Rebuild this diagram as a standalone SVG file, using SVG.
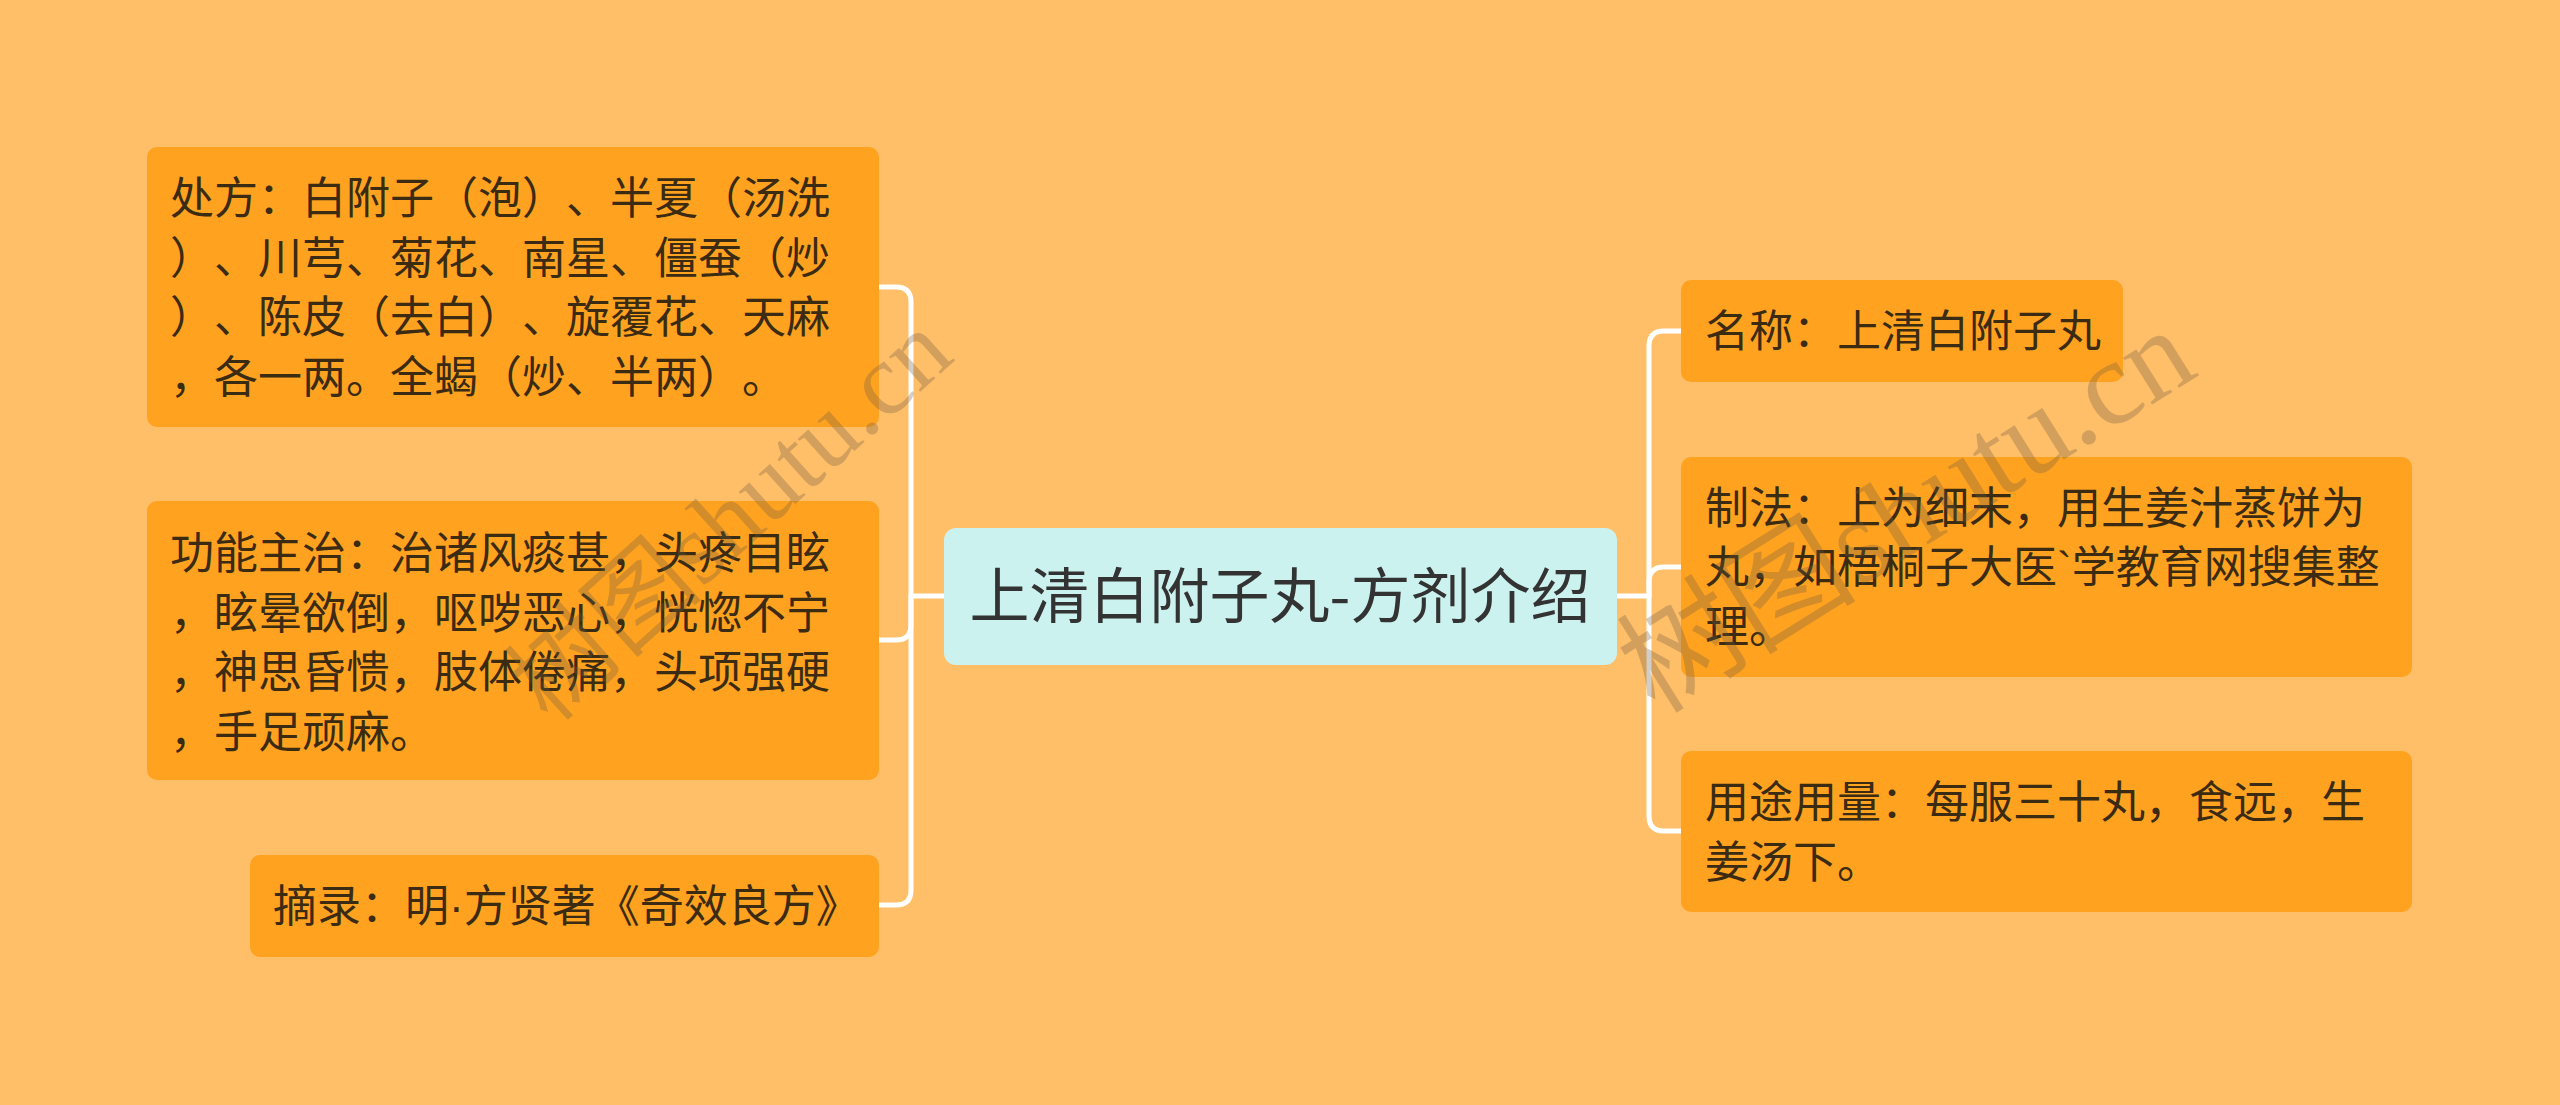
<svg xmlns="http://www.w3.org/2000/svg" width="2560" height="1105" viewBox="0 0 2560 1105">
<style>
.bg{fill:#FFBE68}
.node{fill:#FFA21F}
.root{fill:#CCF2EF}
text{text-spacing-trim:space-all;font-feature-settings:"halt" 0,"chws" 0}
.t{font-family:"Noto Sans CJK SC","Noto Sans",sans-serif;font-size:44px;fill:#3a2b12}
.rt{font-family:"Noto Sans CJK SC","Noto Sans",sans-serif;font-size:60px;fill:#333333}
.lat{font-family:"Liberation Sans",sans-serif}
.conn{fill:none;stroke:#FFFFFF;stroke-width:5;stroke-linecap:round;stroke-linejoin:round}
.wm{font-family:"Liberation Serif","Noto Sans CJK SC",serif;fill:#6b5a45;fill-opacity:0.3}
</style>
<rect class="bg" x="0" y="0" width="2560" height="1105"/>
<g id="connectors">
<path class="conn" d="M944,596 H911"/>
<path class="conn" d="M879,287 H896 Q911,287 911,302 V890 Q911,905 896,905 H879"/>
<path class="conn" d="M911,596 V625 Q911,640 896,640 H879"/>
<path class="conn" d="M1617,596 H1649"/>
<path class="conn" d="M1681,331 H1664 Q1649,331 1649,346 V816 Q1649,831 1664,831 H1681"/>
<path class="conn" d="M1649,596 V582 Q1649,567 1664,567 H1681"/>
</g>
<g id="root">
<rect class="root" x="944" y="528" width="673" height="137" rx="12"/>
<text class="rt" x="1280" y="618" text-anchor="middle">上清白附子丸-方剂介绍</text>
</g>
<g id="node-chufang">
<rect class="node" x="147" y="147" width="732" height="280" rx="10"/>
<text class="t" x="170" y="214">处方：白附子（泡）、半夏（汤洗</text>
<text class="t" x="170" y="273.5">）、川芎、菊花、南星、僵蚕（炒</text>
<text class="t" x="170" y="333">）、陈皮（去白）、旋覆花、天麻</text>
<text class="t" x="170" y="392.5">，各一两。全蝎（炒、半两）。</text>
</g>
<g id="node-gongneng">
<rect class="node" x="147" y="501" width="732" height="279" rx="10"/>
<text class="t" x="170" y="569">功能主治：治诸风痰甚，头疼目眩</text>
<text class="t" x="170" y="628.5">，眩晕欲倒，呕哕恶心，恍惚不宁</text>
<text class="t" x="170" y="688">，神思昏愦，肢体倦痛，头项强硬</text>
<text class="t" x="170" y="747.5">，手足顽麻。</text>
</g>
<g id="node-zhailu">
<rect class="node" x="250" y="855" width="629" height="102" rx="10"/>
<text class="t" x="273" y="922">摘录：明<tspan class="lat">·</tspan>方贤著《奇效良方》</text>
</g>
<g id="node-mingcheng">
<rect class="node" x="1681" y="280" width="442" height="102" rx="10"/>
<text class="t" x="1705" y="347">名称：上清白附子丸</text>
</g>
<g id="node-zhifa">
<rect class="node" x="1681" y="457" width="731" height="220" rx="10"/>
<text class="t" x="1705" y="523.5">制法：上为细末，用生姜汁蒸饼为</text>
<text class="t" x="1705" y="583">丸，如梧桐子大医<tspan class="lat">`</tspan>学教育网搜集整</text>
<text class="t" x="1705" y="642.5">理。</text>
</g>
<g id="node-yongtu">
<rect class="node" x="1681" y="751" width="731" height="161" rx="10"/>
<text class="t" x="1705" y="818">用途用量：每服三十丸，食远，生</text>
<text class="t" x="1705" y="877.5">姜汤下。</text>
</g>
<g id="watermarks">
<text class="wm" font-size="102" transform="translate(550,725) rotate(-42)">树图shutu.cn</text>
<text class="wm" font-size="120" transform="translate(1655,715) rotate(-32)">树图shutu.cn</text>
</g>
</svg>
